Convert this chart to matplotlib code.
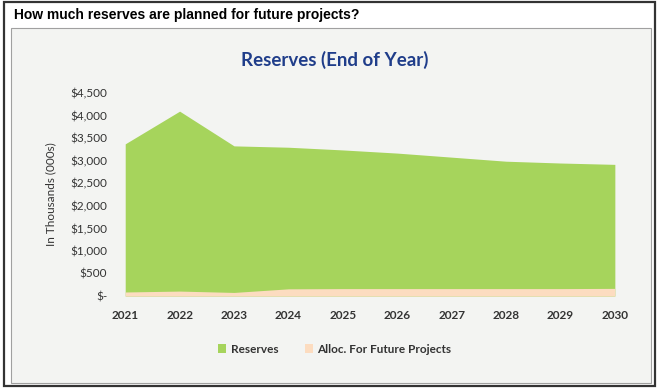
import numpy as np
import matplotlib.pyplot as plt
from matplotlib.patches import Rectangle
from matplotlib.ticker import FuncFormatter

years = [2021, 2022, 2023, 2024, 2025, 2026, 2027, 2028, 2029, 2030]
reserves = [3375, 4100, 3330, 3300, 3240, 3170, 3080, 2990, 2950, 2920]
alloc_future = [90, 110, 80, 160, 165, 165, 165, 165, 165, 170]
yticks = [0, 500, 1000, 1500, 2000, 2500, 3000, 3500, 4000, 4500]

green = '#a6d45c'
peach = '#fcdcc0'

fig = plt.figure(figsize=(6.59, 3.88), dpi=100)
fig.patch.set_facecolor('white')

# outer frame and the grey chart panel (kept behind the axes)
fig.patches.append(Rectangle((0.006, 0.006), 0.988, 0.988, transform=fig.transFigure,
                             fill=False, edgecolor='#333333', lw=1.6, zorder=-10))
fig.patches.append(Rectangle((0.016, 0.012), 0.972, 0.915, transform=fig.transFigure,
                             facecolor='#f3f4f2', edgecolor='#a0a0a0', lw=0.8, zorder=-10))
fig.text(0.022, 0.962, 'How much reserves are planned for future projects?',
         family='Liberation Sans', weight='bold', fontsize=10, va='center', ha='left')

ax = fig.add_axes([0.19, 0.237, 0.743, 0.523])
ax.set_facecolor('none')
ax.fill_between(years, 0, reserves, color=green, lw=0, label='Reserves')
ax.fill_between(years, 0, alloc_future, color=peach, lw=0, label='Alloc. For Future Projects')

ax.set_xlim(years[0], years[-1])
ax.set_ylim(0, 4500)
ax.set_xticks(years)
ax.set_yticks(yticks)
ax.yaxis.set_major_formatter(FuncFormatter(lambda v, p: '$-' if v == 0 else '${:,.0f}'.format(v)))
for s in ax.spines.values():
    s.set_visible(False)
ax.tick_params(length=0)
ax.tick_params(axis='x', pad=10)
ax.tick_params(axis='y', pad=13)
for lbl in ax.get_xticklabels():
    lbl.set_family('Lato')
    lbl.set_weight('bold')
    lbl.set_fontsize(8.5)
    lbl.set_color('#333333')
for lbl in ax.get_yticklabels():
    lbl.set_family('Lato')
    lbl.set_fontsize(8.5)
    lbl.set_color('#333333')

ax.set_ylabel('In Thousands (000s)', family='Lato', fontsize=8.5, color='#333333', labelpad=10)
fig.text(0.508, 0.845, 'Reserves (End of Year)', family='Lato', weight='bold',
         fontsize=13.5, color='#1f3d8a', ha='center', va='center')

leg = fig.legend(loc='center', bbox_to_anchor=(0.508, 0.1), ncol=2, frameon=False,
                 prop={'family': 'Lato', 'weight': 'bold', 'size': 8.5},
                 handlelength=0.7, handleheight=0.7, handletextpad=0.4, columnspacing=2.2)
for t in leg.get_texts():
    t.set_color('#333333')

fig.savefig('out.png', dpi=100, facecolor=fig.get_facecolor())
